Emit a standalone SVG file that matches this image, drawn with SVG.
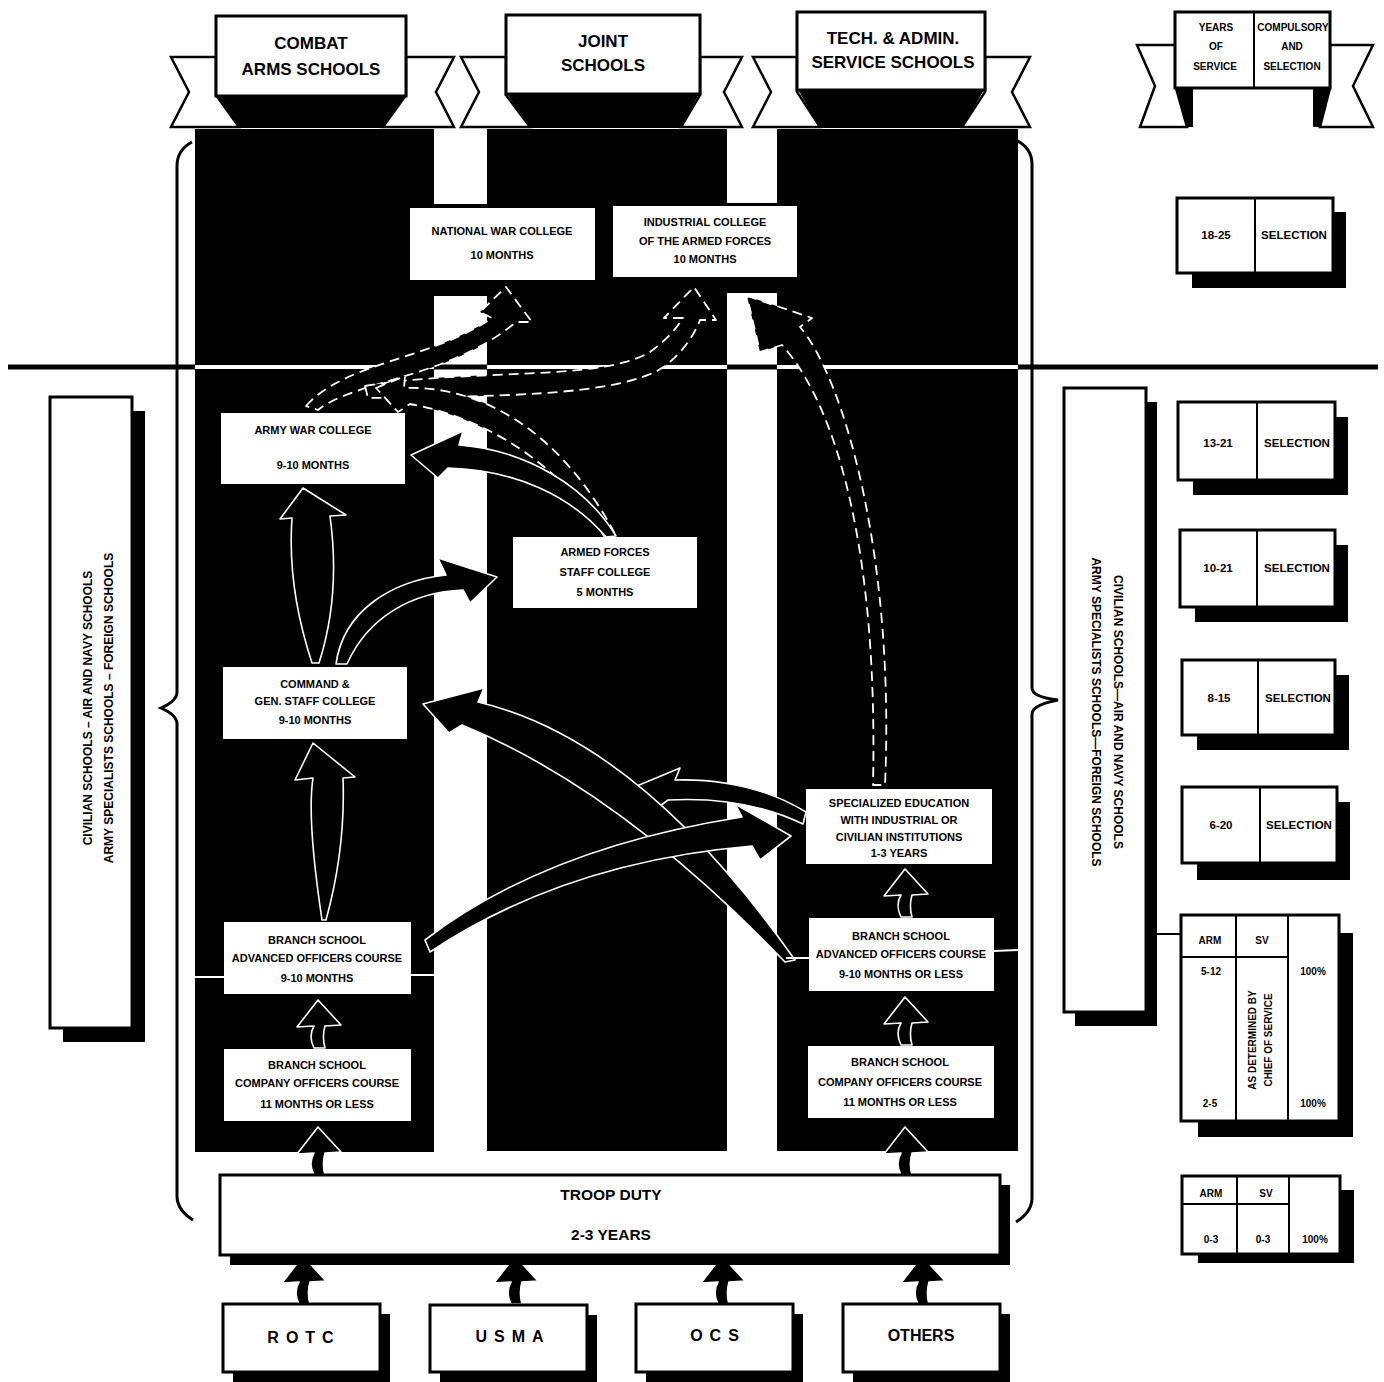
<svg xmlns="http://www.w3.org/2000/svg" xmlns:xlink="http://www.w3.org/1999/xlink" width="1384" height="1382" viewBox="0 0 1384 1382">
<style>
.col{fill:#000}
.box{fill:#fff}
.bx{fill:#fff;stroke:#000;stroke-width:3}
.tail{fill:#fff;stroke:#000;stroke-width:2.5;stroke-linejoin:miter}
.sh{fill:#000}
.t{font-family:"Liberation Sans",Arial,sans-serif;font-weight:bold;fill:#000;text-anchor:middle}
.s10{font-size:10px}
.s11{font-size:11px}
.s12{font-size:11.5px}
.sp{font-size:12px}
.s15{font-size:15.5px}
.s16{font-size:16px}
.s17{font-size:17px}
.arr{fill:#000;stroke:#fff;stroke-width:1.6;stroke-linejoin:round}
.darr{fill:#000;stroke:#fff;stroke-width:1.8;stroke-dasharray:10 6;stroke-linejoin:round}
.brace{fill:none;stroke:#000;stroke-width:3}
.ln{stroke:#000;stroke-width:2}
.wl{stroke:#fff;stroke-width:2}
</style>
<defs>
<path id="sa" d="M-4,48 C-9,38 -7,31 -4,26 L-21,27 L0,0 L23,25 L7,26 C5,33 5,41 7,48 Z"/>
</defs>
<rect width="1384" height="1382" fill="#fff"/>

<!-- columns -->
<g id="columns">
<rect class="col" x="195" y="129" width="239" height="1023"/>
<rect class="col" x="487" y="129" width="240" height="1022"/>
<rect class="col" x="777" y="129" width="241" height="1022"/>
<rect class="col" x="408" y="204" width="190" height="92"/>
<rect class="col" x="610" y="203" width="190" height="90"/>
</g>

<!-- level line -->
<g id="level-line">
<line x1="8" y1="367" x2="1378" y2="367" stroke="#000" stroke-width="5"/>
<line x1="195" y1="367" x2="434" y2="367" stroke="#fff" stroke-width="4"/>
<line x1="487" y1="367" x2="727" y2="367" stroke="#fff" stroke-width="4"/>
<line x1="777" y1="367" x2="1018" y2="367" stroke="#fff" stroke-width="4"/>
</g>

<!-- braces -->
<g id="braces">
<path class="brace" d="M192,142 Q177,150 177,166 L177,692 Q177,701 161,708 Q177,715 177,724 L177,1196 Q177,1210 193,1220"/>
<path class="brace" d="M1016,140 Q1032,148 1032,164 L1032,688 Q1032,697 1058,700 Q1032,705 1032,714 L1032,1198 Q1032,1212 1016,1222"/>
</g>

<!-- banners -->
<g id="banner-combat">
<polygon class="col" points="216,94 406,94 383,128 239,128"/>
<polygon class="tail" points="171,57 216,57 216,95 239,127 171,127 189,92"/>
<polygon class="tail" points="406,57 454,57 436,92 454,127 383,127 406,95"/>
<rect class="bx" x="216" y="16" width="190" height="80"/>
<text class="t s17" x="311" y="49">COMBAT</text>
<text class="t s17" x="311" y="75">ARMS SCHOOLS</text>
</g>
<g id="banner-joint">
<polygon class="col" points="506,92 700,92 680,128 530,128"/>
<polygon class="tail" points="461,57 506,57 506,95 530,127 461,127 479,92"/>
<polygon class="tail" points="700,57 742,57 724,92 742,127 681,127 700,95"/>
<rect class="bx" x="506" y="15" width="194" height="79"/>
<text class="t s17" x="603" y="47">JOINT</text>
<text class="t s17" x="603" y="71">SCHOOLS</text>
</g>
<g id="banner-tech">
<polygon class="col" points="797,88 985,88 962,128 820,128"/>
<polygon class="tail" points="753,57 797,57 797,92 820,127 753,127 771,92"/>
<polygon class="tail" points="985,57 1030,57 1012,92 1030,127 962,127 985,92"/>
<rect class="bx" x="797" y="12" width="188" height="78"/>
<text class="t s17" x="893" y="44">TECH. &amp; ADMIN.</text>
<text class="t s17" x="893" y="68">SERVICE  SCHOOLS</text>
</g>
<g id="banner-years">
<polygon class="col" points="1176,86 1193,86 1193,127 1187,127"/>
<polygon class="col" points="1313,86 1330,86 1320,127 1313,127"/>
<polygon class="tail" points="1137,45 1176,45 1176,88 1187,127 1140,127 1155,86"/>
<polygon class="tail" points="1330,45 1373,45 1353,86 1373,127 1320,127 1330,88"/>
<rect class="bx" x="1175" y="12" width="155" height="76"/>
<line class="ln" x1="1254" y1="12" x2="1254" y2="88" stroke-width="3"/>
<text class="t s10" x="1216" y="31">YEARS</text>
<text class="t s10" x="1216" y="50">OF</text>
<text class="t s10" x="1215" y="70">SERVICE</text>
<text class="t s10" x="1293" y="31">COMPULSORY</text>
<text class="t s10" x="1292" y="50">AND</text>
<text class="t s10" x="1292" y="70">SELECTION</text>
</g>

<!-- connectors -->
<g id="connectors">
<path class="darr" d="M306,406 C345,362 430,360 492,318 L480,312 L506,287 L532,322 L516,322 C450,378 355,380 318,410 Z"/>
<path class="darr" d="M365,386 C470,368 600,382 650,352 Q672,336 683,318 L664,318 L694,287 L716,320 L700,320 Q690,346 665,366 C620,398 480,396 368,398 Z"/>
<path class="darr" d="M376,388 L405,376 L404,388 C480,385 560,430 615,534 L604,536 C565,470 490,418 410,404 L398,412 Z"/>
<path class="darr" d="M747,296 L812,318 L800,327 C845,380 895,560 885,785 L873,785 C878,560 840,410 782,345 L760,352 Z"/>
<path class="arr" d="M411,455 L463,431 L459,445 C525,450 585,485 616,536 L606,537 C570,495 515,470 448,468 L438,478 Z"/>
<path class="arr" d="M312,663 C293,605 289,560 292,518 L280,519 L303,488 L346,515 L330,516 C336,560 336,610 319,663 Z"/>
<path class="arr" d="M336,664 C343,612 390,581 446,575 L438,558 L497,577 L470,603 L463,590 C412,592 368,617 347,664 Z"/>
<path class="arr" d="M322,920 C313,860 308,810 313,778 L295,780 L313,743 L355,777 L343,778 C345,830 337,880 326,920 Z"/>
<path class="arr" d="M632,788 L680,768 L675,780 Q750,778 806,812 L803,824 Q745,796 668,800 L660,806 Z"/>
<path class="arr" d="M423,704 L484,688 L478,702 Q640,740 795,960 L785,962 Q620,790 462,725 L449,733 Z"/>
<path class="arr" d="M425,940 Q545,848 742,817 L735,804 L791,836 L760,860 L752,846 Q565,862 430,952 Z"/>
<use href="#sa" class="arr" x="905" y="869"/>
<use href="#sa" class="arr" x="318" y="1000"/>
<use href="#sa" class="arr" x="905" y="997"/>
<use href="#sa" class="arr" x="318" y="1127"/>
<use href="#sa" class="arr" x="905" y="1127"/>
<use href="#sa" class="arr" x="303" y="1256"/>
<use href="#sa" class="arr" x="515" y="1256"/>
<use href="#sa" class="arr" x="722" y="1256"/>
<use href="#sa" class="arr" x="922" y="1256"/>
<line class="wl" x1="195" y1="977" x2="224" y2="977"/>
<line class="wl" x1="411" y1="975" x2="434" y2="975"/>
<line class="wl" x1="786" y1="958" x2="809" y2="958"/>
<line class="wl" x1="993" y1="951" x2="1018" y2="950"/>
<line class="ln" x1="1146" y1="934" x2="1182" y2="934"/>
<line class="ln" x1="1338" y1="934" x2="1352" y2="934"/>
</g>

<!-- school nodes -->
<g id="national-war-college">
<rect class="box" x="410" y="208" width="185" height="72"/>
<text class="t s11" x="502" y="235">NATIONAL WAR COLLEGE</text>
<text class="t s11" x="502" y="259">10 MONTHS</text>
</g>
<g id="industrial-college">
<rect class="box" x="613" y="206" width="184" height="71"/>
<text class="t s11" x="705" y="226">INDUSTRIAL  COLLEGE</text>
<text class="t s11" x="705" y="245">OF  THE  ARMED  FORCES</text>
<text class="t s11" x="705" y="263">10 MONTHS</text>
</g>
<g id="army-war-college">
<rect class="box" x="221" y="413" width="184" height="71"/>
<text class="t s11" x="313" y="434">ARMY  WAR  COLLEGE</text>
<text class="t s11" x="313" y="469">9-10 MONTHS</text>
</g>
<g id="armed-forces-staff-college">
<rect class="box" x="513" y="537" width="184" height="71"/>
<text class="t s11" x="605" y="556">ARMED FORCES</text>
<text class="t s11" x="605" y="576">STAFF COLLEGE</text>
<text class="t s11" x="605" y="596">5 MONTHS</text>
</g>
<g id="command-gen-staff-college">
<rect class="box" x="223" y="667" width="184" height="72"/>
<text class="t s11" x="315" y="688">COMMAND &amp;</text>
<text class="t s11" x="315" y="705">GEN. STAFF  COLLEGE</text>
<text class="t s11" x="315" y="724">9-10 MONTHS</text>
</g>
<g id="specialized-education">
<rect class="box" x="806" y="789" width="186" height="75"/>
<text class="t s11" x="899" y="807">SPECIALIZED EDUCATION</text>
<text class="t s11" x="899" y="824">WITH INDUSTRIAL  OR</text>
<text class="t s11" x="899" y="841">CIVILIAN  INSTITUTIONS</text>
<text class="t s11" x="899" y="857">1-3 YEARS</text>
</g>
<g id="advanced-officers-combat">
<rect class="box" x="224" y="922" width="187" height="72"/>
<text class="t s11" x="317" y="944">BRANCH SCHOOL</text>
<text class="t s11" x="317" y="962">ADVANCED OFFICERS COURSE</text>
<text class="t s11" x="317" y="982">9-10 MONTHS</text>
</g>
<g id="advanced-officers-service">
<rect class="box" x="809" y="918" width="185" height="73"/>
<text class="t s11" x="901" y="940">BRANCH SCHOOL</text>
<text class="t s11" x="901" y="958">ADVANCED OFFICERS COURSE</text>
<text class="t s11" x="901" y="978">9-10 MONTHS OR LESS</text>
</g>
<g id="company-officers-combat">
<rect class="box" x="224" y="1049" width="187" height="72"/>
<text class="t s11" x="317" y="1069">BRANCH SCHOOL</text>
<text class="t s11" x="317" y="1087">COMPANY OFFICERS COURSE</text>
<text class="t s11" x="317" y="1108">11 MONTHS OR LESS</text>
</g>
<g id="company-officers-service">
<rect class="box" x="808" y="1046" width="186" height="72"/>
<text class="t s11" x="900" y="1066">BRANCH SCHOOL</text>
<text class="t s11" x="900" y="1086">COMPANY OFFICERS COURSE</text>
<text class="t s11" x="900" y="1106">11 MONTHS OR LESS</text>
</g>

<g id="troop-duty">
<rect class="sh" x="230" y="1185" width="780" height="80"/>
<rect class="bx" x="220" y="1175" width="780" height="80"/>
<text class="t s15" x="611" y="1200">TROOP DUTY</text>
<text class="t s15" x="611" y="1240">2-3 YEARS</text>
</g>

<g id="rotc">
<rect class="sh" x="233" y="1314" width="157" height="70"/>
<rect class="bx" x="223" y="1304" width="157" height="68"/>
<text class="t s16" x="304" y="1343" letter-spacing="7">ROTC</text>
</g>
<g id="usma">
<rect class="sh" x="440" y="1315" width="157" height="70"/>
<rect class="bx" x="430" y="1305" width="157" height="67"/>
<text class="t s16" x="513" y="1342" letter-spacing="7">USMA</text>
</g>
<g id="ocs">
<rect class="sh" x="646" y="1314" width="157" height="70"/>
<rect class="bx" x="636" y="1304" width="157" height="68"/>
<text class="t s16" x="718" y="1341" letter-spacing="7">OCS</text>
</g>
<g id="others">
<rect class="sh" x="853" y="1314" width="157" height="70"/>
<rect class="bx" x="843" y="1304" width="157" height="68"/>
<text class="t s16" x="921" y="1341">OTHERS</text>
</g>

<!-- side panels -->
<g id="left-panel">
<rect class="sh" x="63" y="411" width="82" height="631"/>
<rect class="bx" x="50" y="397" width="82" height="631"/>
<text class="t sp" transform="translate(92,708) rotate(-90)">CIVILIAN SCHOOLS – AIR AND NAVY SCHOOLS</text>
<text class="t sp" transform="translate(113,708) rotate(-90)">ARMY SPECIALISTS  SCHOOLS – FOREIGN SCHOOLS</text>
</g>
<g id="right-panel">
<rect class="sh" x="1075" y="402" width="82" height="624"/>
<rect class="bx" x="1064" y="388" width="82" height="624"/>
<text class="t sp" transform="translate(1114,712) rotate(90)">CIVILIAN SCHOOLS—AIR AND NAVY SCHOOLS</text>
<text class="t sp" transform="translate(1092,712) rotate(90)">ARMY SPECIALISTS  SCHOOLS—FOREIGN SCHOOLS</text>
</g>

<!-- years / selection table -->
<g id="years-18-25">
<rect class="sh" x="1192" y="212" width="154" height="76"/>
<rect class="bx" x="1177" y="198" width="156" height="75"/>
<line class="ln" x1="1255" y1="198" x2="1255" y2="273" stroke-width="3"/>
<text class="t s12" x="1216" y="239">18-25</text>
<text class="t s12" x="1294" y="239">SELECTION</text>
</g>
<g id="years-13-21">
<rect class="sh" x="1193" y="417" width="155" height="78"/>
<rect class="bx" x="1178" y="402" width="157" height="78"/>
<line class="ln" x1="1257" y1="402" x2="1257" y2="480" stroke-width="3"/>
<text class="t s12" x="1218" y="447">13-21</text>
<text class="t s12" x="1297" y="447">SELECTION</text>
</g>
<g id="years-10-21">
<rect class="sh" x="1195" y="545" width="153" height="77"/>
<rect class="bx" x="1180" y="530" width="155" height="77"/>
<line class="ln" x1="1257" y1="530" x2="1257" y2="607" stroke-width="3"/>
<text class="t s12" x="1218" y="572">10-21</text>
<text class="t s12" x="1297" y="572">SELECTION</text>
</g>
<g id="years-8-15">
<rect class="sh" x="1197" y="675" width="152" height="75"/>
<rect class="bx" x="1182" y="660" width="153" height="75"/>
<line class="ln" x1="1258" y1="660" x2="1258" y2="735" stroke-width="3"/>
<text class="t s12" x="1219" y="702">8-15</text>
<text class="t s12" x="1298" y="702">SELECTION</text>
</g>
<g id="years-6-20">
<rect class="sh" x="1197" y="802" width="153" height="78"/>
<rect class="bx" x="1182" y="787" width="155" height="76"/>
<line class="ln" x1="1260" y1="787" x2="1260" y2="863" stroke-width="3"/>
<text class="t s12" x="1221" y="829">6-20</text>
<text class="t s12" x="1299" y="829">SELECTION</text>
</g>
<g id="years-arm-sv">
<rect class="sh" x="1198" y="933" width="155" height="204"/>
<rect class="bx" x="1181" y="915" width="158" height="206"/>
<line class="ln" x1="1236" y1="915" x2="1236" y2="1121" stroke-width="3"/>
<line class="ln" x1="1288" y1="915" x2="1288" y2="1121" stroke-width="3"/>
<line class="ln" x1="1181" y1="957" x2="1288" y2="957" stroke-width="3"/>
<text class="t s10" x="1210" y="944">ARM</text>
<text class="t s10" x="1262" y="944">SV</text>
<text class="t s10" x="1211" y="975">5-12</text>
<text class="t s10" x="1210" y="1107">2-5</text>
<text class="t s10" x="1313" y="975">100%</text>
<text class="t s10" x="1313" y="1107">100%</text>
<text class="t s10" transform="translate(1256,1040) rotate(-90)">AS DETERMINED BY</text>
<text class="t s10" transform="translate(1272,1040) rotate(-90)">CHIEF OF SERVICE</text>
</g>
<g id="years-0-3">
<rect class="sh" x="1198" y="1190" width="156" height="73"/>
<rect class="bx" x="1182" y="1176" width="158" height="78"/>
<line class="ln" x1="1237" y1="1176" x2="1237" y2="1254" stroke-width="3"/>
<line class="ln" x1="1289" y1="1176" x2="1289" y2="1254" stroke-width="3"/>
<line class="ln" x1="1182" y1="1204" x2="1289" y2="1204" stroke-width="3"/>
<text class="t s10" x="1211" y="1197">ARM</text>
<text class="t s10" x="1266" y="1197">SV</text>
<text class="t s10" x="1211" y="1243">0-3</text>
<text class="t s10" x="1263" y="1243">0-3</text>
<text class="t s10" x="1315" y="1243">100%</text>
</g>
</svg>
